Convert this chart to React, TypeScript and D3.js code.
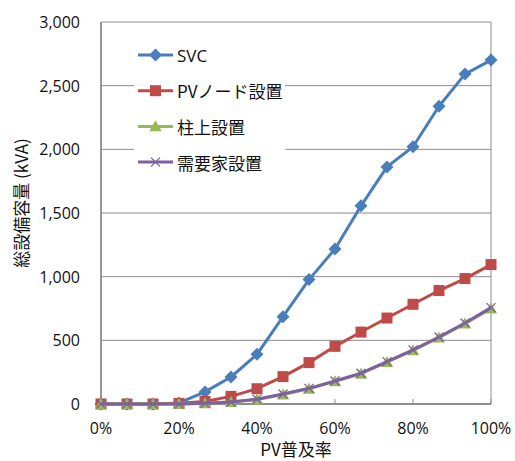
import React from "react";
import * as d3 from "d3";

const xLabels = ["0%", "20%", "40%", "60%", "80%", "100%"];
const xTickValues = [0, 0.2, 0.4, 0.6, 0.8, 1.0];
const yTickValues = [0, 500, 1000, 1500, 2000, 2500, 3000];
const penetration = d3.range(16).map((i) => i / 15);

const svcValues = [0, 0, 0, 8, 95, 212, 390, 686, 977, 1218, 1556, 1862, 2020, 2338, 2591, 2701];
const pvNodeValues = [0, 0, 0, 5, 20, 60, 120, 215, 325, 453, 565, 675, 783, 891, 985, 1095];
const poleValues = [0, 0, 0, 0, 5, 15, 35, 75, 120, 178, 238, 329, 421, 521, 631, 749];
const customerValues = [0, 0, 0, 0, 5, 16, 38, 78, 123, 181, 242, 333, 425, 526, 636, 757];

const seriesNames = ["SVC", "PVノード設置", "柱上設置", "需要家設置"];
const seriesColors = ["#4A7EBB", "#BE4B48", "#98B954", "#7D60A0"];
const seriesMarkers = ["diamond", "square", "triangle", "x"];
const seriesData = [svcValues, pvNodeValues, poleValues, customerValues];

const W = 515;
const H = 461;
const left = 101;
const right = 491;
const top = 22;
const bottom = 404;

const latin = "'Open Sans', 'Noto Sans CJK JP', sans-serif";
const cjk = "'Noto Sans CJK JP', 'Open Sans', sans-serif";

function Marker({ type, x, y, color }: { type: string; x: number; y: number; color: string }) {
  if (type === "diamond") {
    const s = 6.5;
    return <path d={`M${x},${y - s}L${x + s},${y}L${x},${y + s}L${x - s},${y}Z`} fill={color} />;
  }
  if (type === "square") {
    const s = 5.5;
    return <rect x={x - s} y={y - s} width={2 * s} height={2 * s} fill={color} />;
  }
  if (type === "triangle") {
    const s = 6.2;
    return <path d={`M${x},${y - s}L${x + s},${y + s * 0.8}L${x - s},${y + s * 0.8}Z`} fill={color} />;
  }
  const s = 4.5;
  return (
    <path
      d={`M${x - s},${y - s}L${x + s},${y + s}M${x - s},${y + s}L${x + s},${y - s}`}
      stroke={color}
      strokeWidth={1.3}
      fill="none"
    />
  );
}

export default function App() {
  const x = d3.scaleLinear().domain([0, 1]).range([left, right]);
  const y = d3.scaleLinear().domain([0, 3000]).range([bottom, top]);
  const line = d3
    .line<number>()
    .x((_, i) => x(penetration[i]))
    .y((d) => y(d));

  const grid = "#8C8C8C";
  const ink = "#111";

  return (
    <svg
      width={W}
      height={H}
      style={{ position: "fixed", left: 0, top: 0, background: "#fff" }}
    >
      <rect x={0} y={0} width={W} height={H} fill="#fff" />
      {yTickValues.slice(1).map((v) => (
        <line key={v} x1={left} x2={right} y1={y(v)} y2={y(v)} stroke={grid} strokeWidth={1} />
      ))}
      <line x1={right} x2={right} y1={top} y2={bottom} stroke={grid} strokeWidth={1} />
      {xTickValues.map((v) => (
        <line key={v} x1={x(v)} x2={x(v)} y1={bottom} y2={bottom - 5} stroke={grid} strokeWidth={1} />
      ))}
      <line x1={left} x2={left} y1={top} y2={bottom} stroke={grid} strokeWidth={1.8} />
      <line x1={left} x2={right} y1={bottom} y2={bottom} stroke={grid} strokeWidth={1.8} />

      <rect x={134} y={33} width={151} height={157} fill="#fff" />

      {seriesData.map((vals, si) => (
        <g key={si}>
          <path d={line(vals) || ""} fill="none" stroke={seriesColors[si]} strokeWidth={3} strokeLinejoin="round" />
          {vals.map((v, i) => (
            <Marker key={i} type={seriesMarkers[si]} x={x(penetration[i])} y={y(v)} color={seriesColors[si]} />
          ))}
        </g>
      ))}

      {yTickValues.map((v) => (
        <text
          key={v}
          x={80}
          y={y(v)}
          textAnchor="end"
          dominantBaseline="central"
          fontFamily={latin}
          fontSize={16}
          fill={ink}
        >
          {d3.format(",")(v)}
        </text>
      ))}
      {xTickValues.map((v, i) => (
        <text
          key={v}
          x={x(v)}
          y={428}
          textAnchor="middle"
          dominantBaseline="central"
          fontFamily={latin}
          fontSize={16}
          fill={ink}
        >
          {xLabels[i]}
        </text>
      ))}
      <text
        x={(left + right) / 2}
        y={448}
        textAnchor="middle"
        dominantBaseline="central"
        fontFamily={cjk}
        fontSize={17}
        fill={ink}
      >
        PV普及率
      </text>
      <text
        transform="translate(20,203) rotate(-90)"
        textAnchor="middle"
        dominantBaseline="central"
        fontFamily={cjk}
        fontSize={17}
        fill={ink}
      >
        総設備容量 (kVA)
      </text>

      {seriesNames.map((name, i) => {
        const cy = 55 + i * 35.7;
        return (
          <g key={name}>
            <line x1={138} x2={173} y1={cy} y2={cy} stroke={seriesColors[i]} strokeWidth={3} />
            <Marker type={seriesMarkers[i]} x={155.5} y={cy} color={seriesColors[i]} />
            <text
              x={177}
              y={cy}
              dominantBaseline="central"
              fontFamily={i === 0 ? latin : cjk}
              fontSize={17}
              fill={ink}
            >
              {name}
            </text>
          </g>
        );
      })}
    </svg>
  );
}
